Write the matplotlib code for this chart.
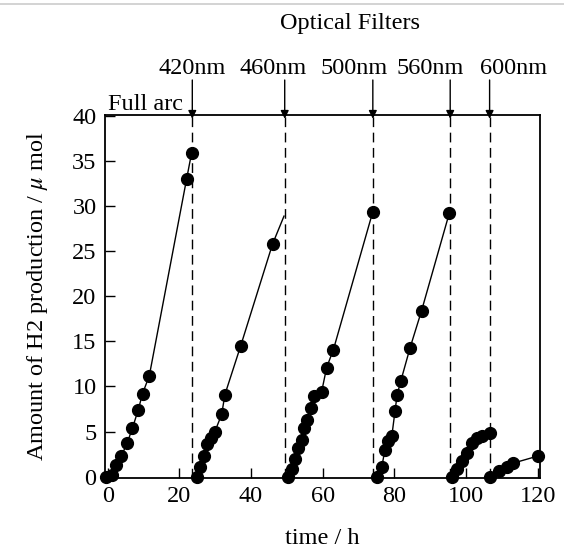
import matplotlib
matplotlib.use('Agg')
import matplotlib.pyplot as plt
from matplotlib.lines import Line2D

plt.rcParams['font.family'] = ['Liberation Serif', 'DejaVu Serif']
plt.rcParams['mathtext.fontset'] = 'stix'

# data, one run per filter
t_full = [-0.5, 1.2, 2.3, 3.8, 5.4, 6.9, 8.5, 9.7, 11.6, 22.0, 23.4]
h_full = [0, 0.2, 1.3, 2.3, 3.7, 5.4, 7.4, 9.2, 11.2, 33.0, 35.9]

t_420 = [24.8, 25.7, 26.8, 27.8, 28.7, 29.9, 31.8, 32.7, 37.1, 46.0]
h_420 = [0, 1.1, 2.3, 3.6, 4.3, 5.0, 6.9, 9.1, 14.5, 25.8]
end_420 = (49.2, 28.9)   # line runs on to the dashed line, no marker

t_460 = [50.4, 51.3, 52.2, 53.2, 54.1, 54.8, 55.7, 56.6, 57.6, 59.7, 61.1, 63.0, 74.0]
h_460 = [0, 0.8, 2.0, 3.2, 4.1, 5.4, 6.3, 7.6, 8.9, 9.4, 12.1, 14.1, 29.4]

t_500 = [75.1, 76.5, 77.4, 78.3, 79.3, 80.2, 80.8, 81.8, 84.4, 87.6, 95.4]
h_500 = [0, 1.1, 3.0, 3.9, 4.5, 7.3, 9.1, 10.6, 14.3, 18.4, 29.3]

t_560 = [96.0, 97.4, 98.8, 100.2, 101.6, 103.0, 104.4, 106.7]
h_560 = [0, 0.8, 1.7, 2.6, 3.7, 4.3, 4.5, 4.8]

t_600 = [106.7, 109.1, 111.4, 113.2, 120.2]
h_600 = [0, 0.6, 1.1, 1.5, 2.3]

filter_times = [23.6, 49.4, 74.0, 95.6, 106.6]
filter_names = ['420nm', '460nm', '500nm', '560nm', '600nm']
name_x = [23.7, 46.3, 68.7, 90.1, 113.3]

fs = 17.5

fig = plt.figure(figsize=(5.64, 5.51), dpi=100)
ax = fig.add_axes([0.186, 0.1325, 0.771, 0.6585])

runs = [(t_full, h_full), (t_420, h_420), (t_460, h_460),
        (t_500, h_500), (t_560, h_560), (t_600, h_600)]
for i, (t, h) in enumerate(runs):
    lt, lh = list(t), list(h)
    if i == 1:
        lt.append(end_420[0])
        lh.append(end_420[1])
    ax.plot(lt, lh, color='black', lw=1.0, zorder=2)
    ax.plot(t, h, 'o', color='black', ms=8.5, zorder=3, clip_on=False)

for ft in filter_times:
    ax.axvline(ft, color='black', lw=1.0, ls=(0, (7, 4)), zorder=1)
    ax.annotate('', xy=(ft, 39.7), xytext=(ft, 44.0), annotation_clip=False,
                arrowprops=dict(arrowstyle='-|>', color='black', lw=1.0,
                                mutation_scale=12, shrinkA=0, shrinkB=0))

for nx, nm in zip(name_x, filter_names):
    ax.text(nx, 45.3, nm, ha='center', va='center', fontsize=fs, clip_on=False)

ax.text(10.6, 41.3, 'Full arc', ha='center', va='center', fontsize=fs, clip_on=False)
ax.text(67.5, 50.3, 'Optical Filters', ha='center', va='center', fontsize=fs, clip_on=False)

ax.set_xlim(-0.8, 120.6)
ax.set_ylim(-0.15, 40.1)
ax.set_xticks(range(0, 121, 20))
ax.set_yticks(range(0, 41, 5))
ax.tick_params(direction='in', length=7, width=1, labelsize=fs, pad=6)
for s in ax.spines.values():
    s.set_linewidth(1.3)

ax.set_xlabel('time / h', fontsize=fs, labelpad=15)
ax.set_ylabel(r'Amount of H2 production / $\mu$ mol', fontsize=fs, labelpad=16)

# thin grey frame line at the top of the picture
fig.add_artist(Line2D([0, 1], [0.993, 0.993], color='#cccccc', lw=1.2,
                      transform=fig.transFigure))

fig.savefig('out.png', dpi=100)
